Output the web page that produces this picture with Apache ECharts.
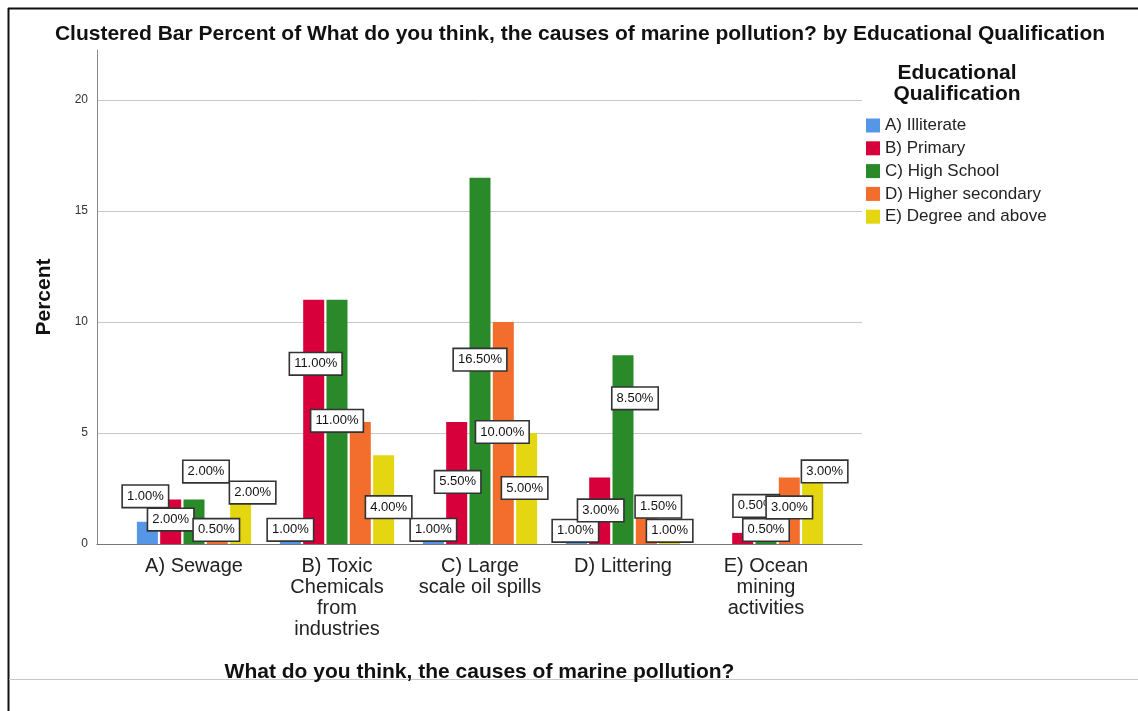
<!DOCTYPE html>
<html>
<head>
<meta charset="utf-8">
<script src="https://cdn.jsdelivr.net/npm/echarts@6/dist/echarts.min.js"></script>
<style>
  html, body { margin: 0; padding: 0; background: #fff; }
  #chart { width: 1138px; height: 711px; }
</style>
</head>
<body>
<div id="chart"></div>
<script>
// Causes of marine pollution, percent of respondents by educational qualification
const categories = [
  'A) Sewage',
  'B) Toxic\nChemicals\nfrom\nindustries',
  'C) Large\nscale oil spills',
  'D) Littering',
  'E) Ocean\nmining\nactivities'
];
const groups = ['A) Illiterate', 'B) Primary', 'C) High School', 'D) Higher secondary', 'E) Degree and above'];
const illiterate      = [1.0, 1.0, 1.0, 1.0, 0];
const primary         = [2.0, 11.0, 5.5, 3.0, 0.5];
const highSchool      = [2.0, 11.0, 16.5, 8.5, 0.5];
const higherSecondary = [0.5, 5.5, 10.0, 1.5, 3.0];
const degree          = [2.0, 4.0, 5.0, 1.0, 3.0];
const yTicks = [0, 5, 10, 15, 20];

const seriesValues = [illiterate, primary, highSchool, higherSecondary, degree];
const colors = ['#5596e6', '#d7003a', '#2a8a2a', '#f36d2c', '#e4d712'];

// Label box nudges [dx, dy] away from the bar top (null: label not drawn)
const labelNudge = [
  [[-2, -15], [0, 18.5], [0, 18.5], [-1, 19.5], null],
  [[0, 30.5], [2, 74.5], [1, 70.5], [1, 43.5], [13.5, -16.5]],
  [[12, -17.5], [0, 131.5], [0, 192.5], [12, 53.5], [0, 7.5]],
  [[-1, 7.5], null, [-1, 120.5], [12, 6.5], [0, 40.5]],
  [[12, 3.5], [5, 62.5], [-2, 65.5], [0, 19.5], [12, 4.5]]
];

const FONT = "'Liberation Sans', Arial, sans-serif";
const Y_TOP = 22.25;

const barSeries = seriesValues.map((vals, si) => ({
  name: groups[si],
  type: 'bar',
  xAxisIndex: 2,
  yAxisIndex: 2,
  barWidth: 21,
  barGap: '11%',
  itemStyle: { color: colors[si] },
  data: vals.map((v, ci) => {
    const nudge = labelNudge[si][ci];
    if (v === 0) return { value: v, label: { show: false } };
    return {
      value: v,
      label: nudge ? { show: true, offset: nudge } : { show: false }
    };
  }),
  label: {
    show: true,
    position: 'top',
    distance: 0,
    formatter: p => p.value.toFixed(2) + '%',
    fontFamily: FONT,
    fontSize: 13,
    lineHeight: 15,
    color: '#111',
    backgroundColor: '#fff',
    borderColor: '#333',
    borderWidth: 1.6,
    padding: [3, 4, 3, 4]
  }
}));

const chart = echarts.init(document.getElementById('chart'), null, { renderer: 'canvas' });
chart.setOption({
  animation: false,
  backgroundColor: '#fff',
  title: [
    {
      text: 'Clustered Bar Percent of What do you think, the causes of marine pollution? by Educational Qualification',
      left: 580, top: 24, textAlign: 'center', padding: 0,
      textStyle: { fontFamily: FONT, fontSize: 21, lineHeight: 21, fontWeight: 'bold', color: '#111' }
    },
    {
      text: 'Educational\nQualification',
      left: 957, top: 63, textAlign: 'center', padding: 0,
      textStyle: { fontFamily: FONT, fontSize: 21, fontWeight: 'bold', color: '#111', lineHeight: 21 }
    }
  ],
  legend: {
    orient: 'vertical',
    left: 866, top: 117, padding: 0,
    itemWidth: 14, itemHeight: 14, itemGap: 5.8,
    icon: 'rect',
    data: groups,
    textStyle: { fontFamily: FONT, fontSize: 17, color: '#222', lineHeight: 14 }
  },
  grid: [
    { left: 97, right: 276, top: 50, bottom: 167 },
    { left: 97, right: 276, top: 100, bottom: 167 },
    { left: 122.5, right: 300.5, top: 50, bottom: 167 }
  ],
  xAxis: [
    {
      gridIndex: 0, type: 'value', min: 0, max: 1,
      axisLine: { show: true, lineStyle: { color: '#777', width: 1 } },
      axisTick: { show: false }, axisLabel: { show: false }, splitLine: { show: false },
      name: 'What do you think, the causes of marine pollution?',
      nameLocation: 'middle', nameGap: 118,
      nameTextStyle: { fontFamily: FONT, fontSize: 21, fontWeight: 'bold', color: '#111' }
    },
    {
      gridIndex: 1, type: 'value', min: 0, max: 1, show: false
    },
    {
      gridIndex: 2, type: 'category', data: categories,
      axisLine: { show: false }, axisTick: { show: false },
      axisLabel: { fontFamily: FONT, fontSize: 20, lineHeight: 21, color: '#222', margin: 12, interval: 0 }
    }
  ],
  yAxis: [
    {
      gridIndex: 0, type: 'value', min: 0, max: Y_TOP,
      axisLine: { show: true, lineStyle: { color: '#888', width: 1 } },
      axisTick: { show: false }, axisLabel: { show: false }, splitLine: { show: false },
      name: 'Percent', nameLocation: 'middle', nameGap: 42,
      nameTextStyle: { fontFamily: FONT, fontSize: 21, fontWeight: 'bold', color: '#111' }
    },
    {
      gridIndex: 1, type: 'value', min: yTicks[0], max: yTicks[yTicks.length - 1], interval: yTicks[1] - yTicks[0],
      axisLine: { show: false }, axisTick: { show: false },
      axisLabel: { fontFamily: FONT, fontSize: 12, color: '#333', margin: 9 },
      splitLine: { show: true, lineStyle: { color: '#c8c8c8', width: 1 } }
    },
    {
      gridIndex: 2, type: 'value', min: 0, max: Y_TOP, show: false
    }
  ],
  graphic: [
    { type: 'line', shape: { x1: 8, y1: 8.5, x2: 1138, y2: 8.5 }, style: { stroke: '#111', lineWidth: 2 }, silent: true },
    { type: 'line', shape: { x1: 8.5, y1: 8, x2: 8.5, y2: 711 }, style: { stroke: '#111', lineWidth: 2 }, silent: true },
    { type: 'line', shape: { x1: 9, y1: 679.5, x2: 1138, y2: 679.5 }, style: { stroke: '#c8c8c8', lineWidth: 1 }, silent: true }
  ],
  series: barSeries
});
</script>
</body>
</html>
